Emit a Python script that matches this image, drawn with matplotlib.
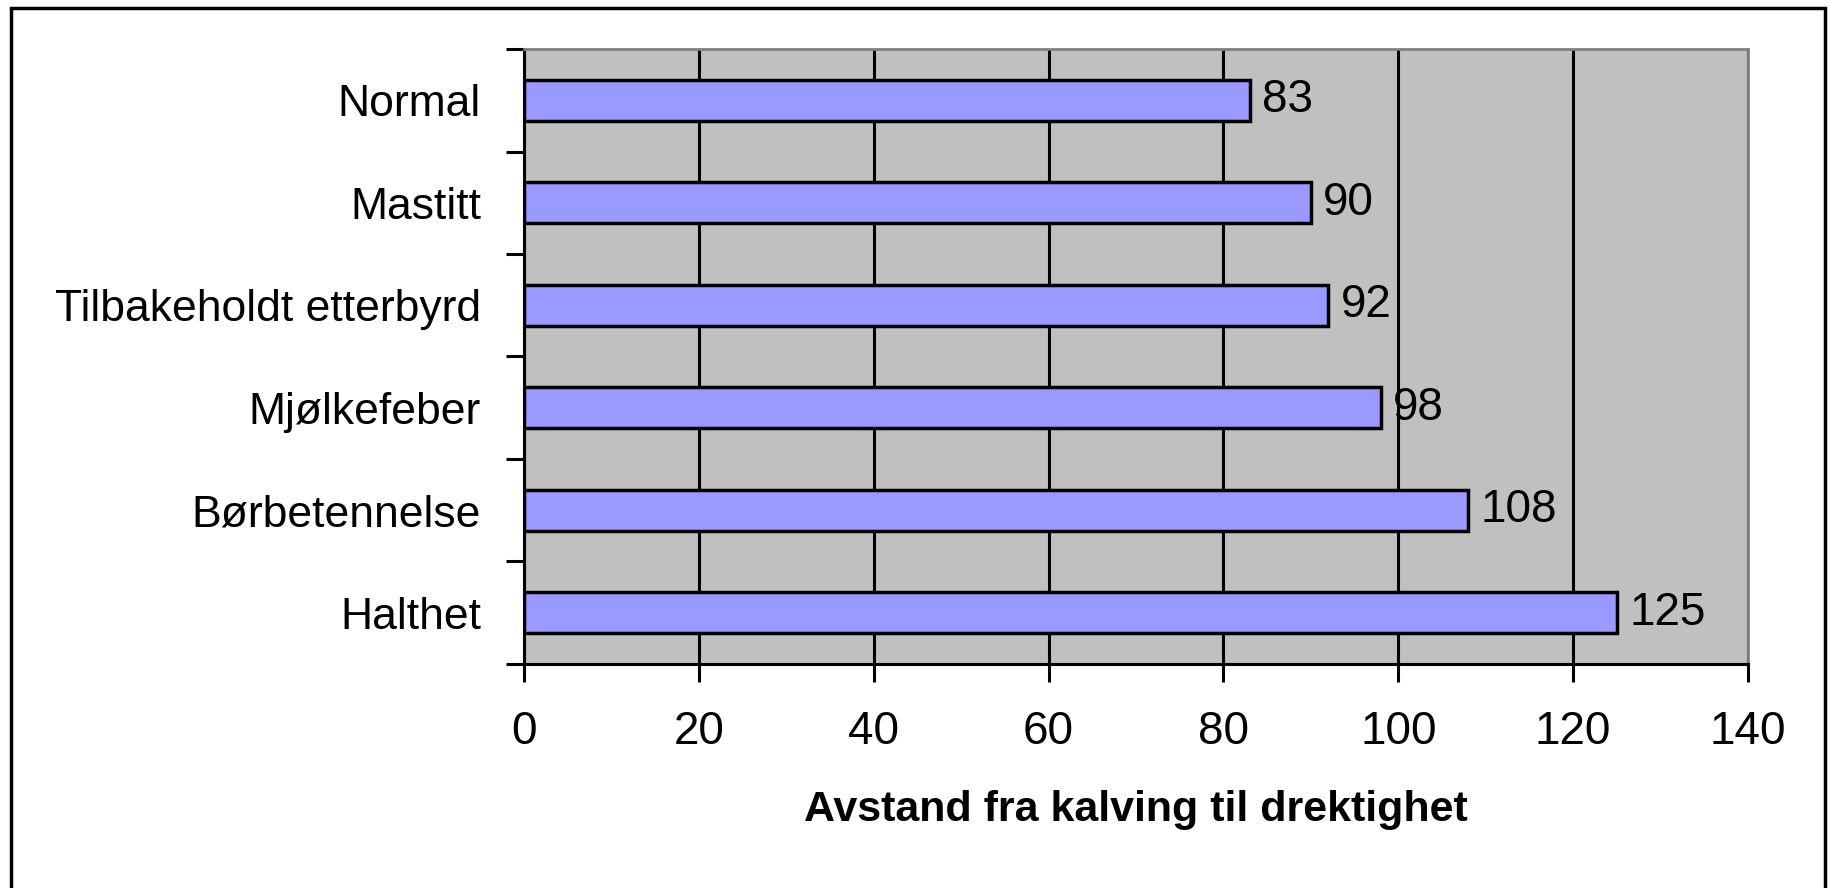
import numpy as np
import matplotlib
matplotlib.use("Agg")
import matplotlib.pyplot as plt
from matplotlib.patches import Rectangle

plt.rcParams['font.family'] = ['Liberation Sans', 'DejaVu Sans']

# data
categories = ["Normal", "Mastitt", "Tilbakeholdt etterbyrd", "Mjølkefeber", "Børbetennelse", "Halthet"]
values = [83, 90, 92, 98, 108, 125]
x_ticks = [0, 20, 40, 60, 80, 100, 120, 140]

fig = plt.figure(figsize=(18.29, 8.88), dpi=100)
ax = fig.add_axes([0.2865, 0.2523, 0.6692, 0.6925])

# outer chart frame
fig.patches.append(Rectangle((11 / 1829, -0.05), (1825 - 11) / 1829, 1.05 - 8 / 888,
                             transform=fig.transFigure, fill=False, edgecolor="black", linewidth=2.5))

ax.set_facecolor("#C0C0C0")
y = np.arange(len(categories))
ax.set_axisbelow(True)
ax.grid(axis="x", color="black", linewidth=2.2)
ax.barh(y, values, height=0.4, color="#9999FF", edgecolor="black", linewidth=2.5, zorder=3)

for yi, v in zip(y, values):
    ax.text(v + 1.4, yi, str(v), va="center", ha="left", fontsize=33, zorder=4)

ax.set_xlim(0, 140)
ax.set_ylim(len(categories) - 0.5, -0.5)
ax.set_xticks(x_ticks)
ax.tick_params(axis="x", length=13, width=2.2, pad=20, labelsize=33)

# y ticks between categories, labels at centres
ax.set_yticks(np.arange(-0.5, len(categories), 1.0))
ax.set_yticklabels([])
ax.set_yticks(y, minor=True)
ax.set_yticklabels(categories, minor=True)
ax.tick_params(axis="y", which="major", length=13, width=2.2)
ax.tick_params(axis="y", which="minor", length=0, pad=31, labelsize=32)

for s in ["left", "bottom"]:
    ax.spines[s].set_color("black")
    ax.spines[s].set_linewidth(2.2)
for s in ["top", "right"]:
    ax.spines[s].set_color("#808080")
    ax.spines[s].set_linewidth(2)

ax.set_xlabel("Avstand fra kalving til drektighet", fontsize=31, fontweight="bold", labelpad=26)

fig.savefig("out.png", dpi=100)
